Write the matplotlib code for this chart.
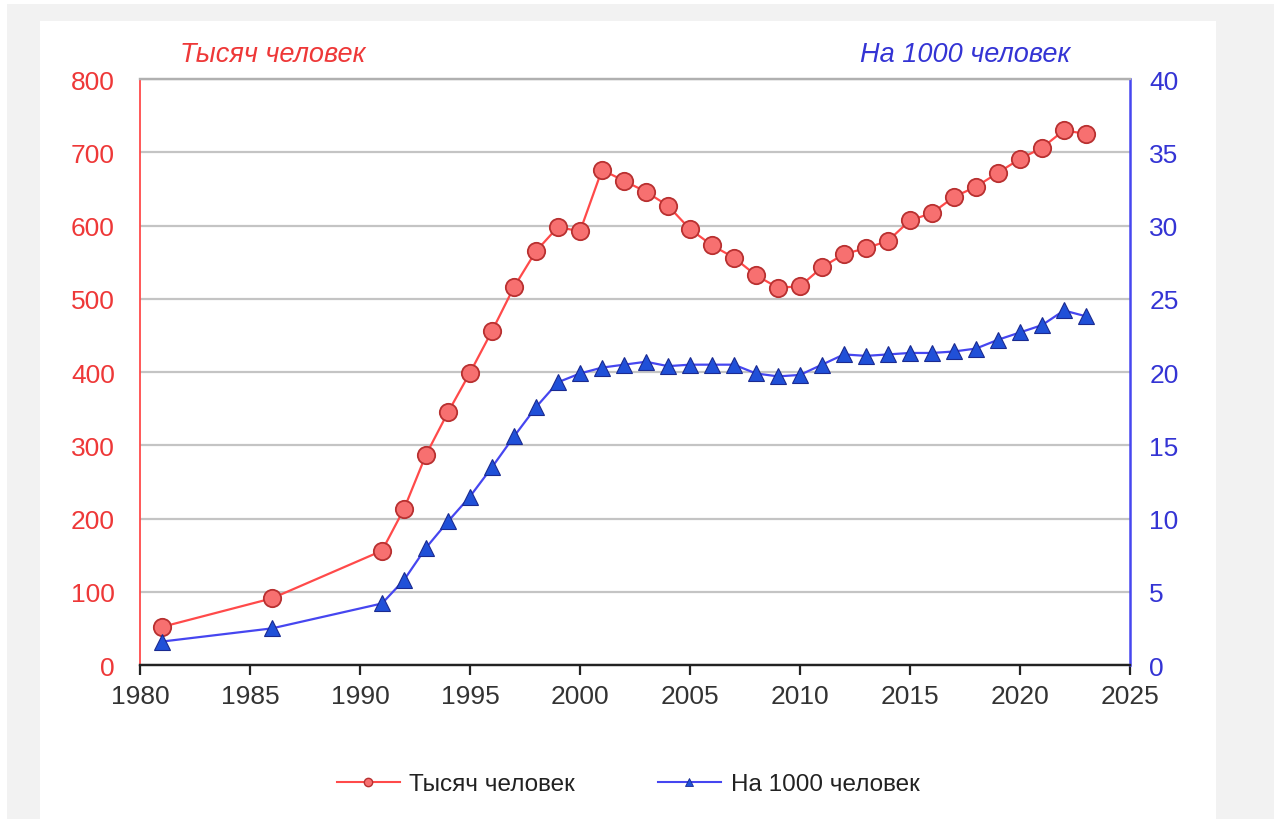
import matplotlib.pyplot as plt
from matplotlib.patches import Rectangle
from matplotlib.lines import Line2D

plt.rcParams['font.family'] = ['Liberation Sans', 'DejaVu Sans']

years = [1981, 1986, 1991, 1992, 1993, 1994, 1995, 1996, 1997, 1998, 1999, 2000,
         2001, 2002, 2003, 2004, 2005, 2006, 2007, 2008, 2009, 2010, 2011, 2012,
         2013, 2014, 2015, 2016, 2017, 2018, 2019, 2020, 2021, 2022, 2023]
thousands = [52, 91, 156, 213, 287, 345, 399, 456, 516, 565, 598, 592,
             676, 661, 646, 627, 595, 573, 556, 532, 515, 517, 543, 561,
             569, 579, 607, 617, 639, 653, 672, 691, 706, 730, 725]
per_1000 = [1.6, 2.5, 4.2, 5.8, 8.0, 9.8, 11.5, 13.5, 15.6, 17.6, 19.3, 19.9,
            20.3, 20.5, 20.7, 20.4, 20.5, 20.5, 20.5, 19.9, 19.7, 19.8, 20.5, 21.2,
            21.1, 21.2, 21.3, 21.3, 21.4, 21.6, 22.2, 22.7, 23.2, 24.2, 23.8]

left_label = 'Тысяч человек'
right_label = 'На 1000 человек'

red_line = '#ff4a4a'
red_face = '#f77070'
red_edge = '#b83030'
blue_line = '#4646f0'
blue_face = '#2050d8'
blue_edge = '#1a2a90'
red_txt = '#ee3838'
blue_txt = '#3434d4'

W, H = 1274, 820
fig = plt.figure(figsize=(W / 100, H / 100), dpi=100)
fig.patch.set_facecolor('white')
fig.add_artist(Rectangle((7 / W, 0), 1, 1 - 5 / H, transform=fig.transFigure,
                         facecolor='#f2f2f2', edgecolor='none', zorder=-10))
fig.add_artist(Rectangle((40 / W, 0), (1216 - 40) / W, 1 - 22 / H, transform=fig.transFigure,
                         facecolor='white', edgecolor='none', zorder=-9))

ax = fig.add_axes([140 / W, 1 - 666 / H, (1130 - 140) / W, (666 - 80) / H])
ax.set_facecolor('none')
ax2 = ax.twinx()

ax.plot(years, thousands, color=red_line, lw=1.6, marker='o', ms=12.5,
        mfc=red_face, mec=red_edge, mew=1.3, zorder=3)
ax2.plot(years, per_1000, color=blue_line, lw=1.6, marker='^', ms=11,
         mfc=blue_face, mec=blue_edge, mew=0.8, zorder=3)

ax.set_xlim(1980, 2025)
ax.set_ylim(0, 800)
ax2.set_ylim(0, 40)
ax.set_xticks(range(1980, 2026, 5))
ax.set_yticks(range(0, 801, 100))
ax2.set_yticks(range(0, 41, 5))

ax.grid(axis='y', color='#c4c4c4', lw=1.6)
ax.set_axisbelow(True)

for a in (ax, ax2):
    a.spines['top'].set_color('#b0b0b0')
    a.spines['top'].set_linewidth(1.6)
    a.spines['bottom'].set_color('#222222')
    a.spines['bottom'].set_linewidth(1.6)
ax.spines['left'].set_color(red_line)
ax.spines['left'].set_linewidth(1.3)
ax.spines['right'].set_visible(False)
ax2.spines['left'].set_visible(False)
ax2.spines['right'].set_color(blue_line)
ax2.spines['right'].set_linewidth(1.8)

ax.tick_params(axis='y', length=0, pad=18, labelsize=19, labelcolor=red_txt)
ax2.tick_params(axis='y', length=0, pad=14, labelsize=19, labelcolor=blue_txt)
ax.tick_params(axis='x', length=7, width=1.6, color='#222222', pad=7,
               labelsize=19, labelcolor='#333333')

fig.text(180 / W, 1 - 55 / H, left_label, color=red_txt, fontsize=19.5,
         style='italic', va='center', ha='left')
fig.text(1070 / W, 1 - 55 / H, right_label, color=blue_txt, fontsize=19.5,
         style='italic', va='center', ha='right')

handles = [Line2D([], [], color=red_line, lw=1.5, marker='o', ms=6,
                  mfc=red_face, mec=red_edge, mew=1),
           Line2D([], [], color=blue_line, lw=1.5, marker='^', ms=6,
                  mfc=blue_face, mec=blue_edge, mew=0.6)]
fig.legend(handles, [left_label, right_label], loc='center',
           bbox_to_anchor=(628 / W, 1 - 785 / H), ncol=2, frameon=False,
           fontsize=17.5, handlelength=2.6, columnspacing=3.4, handletextpad=0.4,
           labelcolor='#222222')

fig.savefig('out.png', dpi=100)
